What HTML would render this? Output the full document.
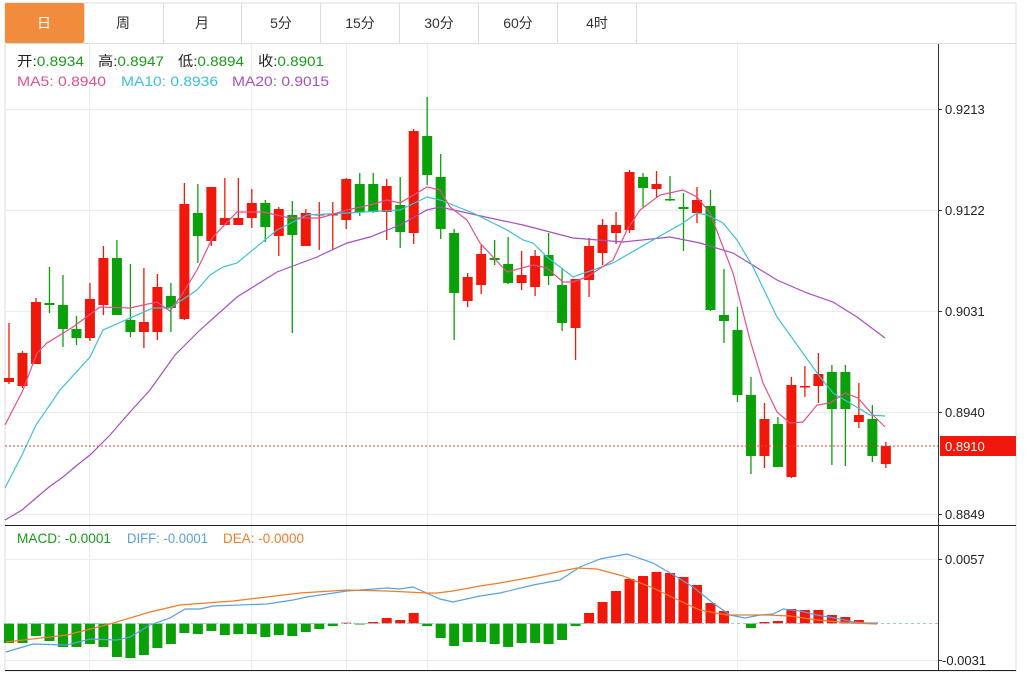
<!DOCTYPE html>
<html><head><meta charset="utf-8"><style>
body{margin:0;background:#fff;width:1033px;height:675px;overflow:hidden;font-family:"Liberation Sans","Noto Sans CJK SC",sans-serif}
svg{position:absolute;left:0;top:0}
</style></head><body>
<svg id="s" width="1033" height="675" xmlns="http://www.w3.org/2000/svg" font-family="Liberation Sans, Noto Sans CJK SC, sans-serif">
<rect x="5" y="3" width="1011" height="668" fill="#fff" stroke="#ddd"/>
<line x1="5" y1="43.5" x2="1016" y2="43.5" stroke="#ddd"/>
<rect x="5" y="3" width="79" height="40" fill="#f08c3c" rx="2"/>
<g stroke="#ddd"><line x1="84.5" y1="3" x2="84.5" y2="43"/><line x1="163.5" y1="3" x2="163.5" y2="43"/><line x1="241.5" y1="3" x2="241.5" y2="43"/><line x1="320.5" y1="3" x2="320.5" y2="43"/><line x1="399.5" y1="3" x2="399.5" y2="43"/><line x1="478.5" y1="3" x2="478.5" y2="43"/><line x1="557.5" y1="3" x2="557.5" y2="43"/><line x1="636.5" y1="3" x2="636.5" y2="43"/></g>
<g font-size="14" fill="#333" text-anchor="middle"><text x="44" y="28" fill="#fff">日</text><text x="123" y="28">周</text><text x="202" y="28">月</text><text x="281" y="28">5分</text><text x="360" y="28">15分</text><text x="439" y="28">30分</text><text x="518" y="28">60分</text><text x="597" y="28">4时</text></g>
<g stroke="#e6ecf2"><line x1="89.5" y1="44" x2="89.5" y2="671"/><line x1="251.5" y1="44" x2="251.5" y2="671"/><line x1="346.5" y1="44" x2="346.5" y2="671"/><line x1="427.5" y1="44" x2="427.5" y2="671"/><line x1="737.5" y1="44" x2="737.5" y2="671"/>
<line x1="5" y1="109.5" x2="938" y2="109.5"/><line x1="5" y1="210.5" x2="938" y2="210.5"/><line x1="5" y1="311.5" x2="938" y2="311.5"/><line x1="5" y1="412.5" x2="938" y2="412.5"/><line x1="5" y1="514.5" x2="938" y2="514.5"/><line x1="5" y1="559.5" x2="938" y2="559.5"/><line x1="5" y1="660.5" x2="938" y2="660.5"/></g>
<g id="g"></g>
<line x1="938.5" y1="44" x2="938.5" y2="671" stroke="#333"/>
<line x1="5" y1="525.5" x2="1016" y2="525.5" stroke="#222"/>
<line x1="5" y1="670.5" x2="1016" y2="670.5" stroke="#222"/>
<g stroke="#333"><line x1="938" y1="109.5" x2="942" y2="109.5"/><line x1="938" y1="210.5" x2="942" y2="210.5"/><line x1="938" y1="311.5" x2="942" y2="311.5"/><line x1="938" y1="412.5" x2="942" y2="412.5"/><line x1="938" y1="514.5" x2="942" y2="514.5"/><line x1="938" y1="559.5" x2="942" y2="559.5"/><line x1="938" y1="660.5" x2="942" y2="660.5"/></g>
<g font-size="13" fill="#222"><text x="945" y="114">0.9213</text><text x="945" y="215">0.9122</text><text x="945" y="316">0.9031</text><text x="945" y="417">0.8940</text><text x="945" y="519">0.8849</text><text x="945" y="564">0.0057</text><text x="942" y="665">-0.0031</text></g>
<line x1="5" y1="446" x2="938" y2="446" stroke="#e03c30" stroke-dasharray="2,2"/>
<rect x="940" y="436" width="76" height="20" fill="#f0180a"/>
<text x="945" y="451" font-size="13" fill="#fff">0.8910</text>
<g font-size="14"><text x="17" y="66" fill="#222" textLength="67" lengthAdjust="spacingAndGlyphs">开:<tspan fill="#1a9a1a">0.8934</tspan></text><text x="98" y="66" fill="#222" textLength="66" lengthAdjust="spacingAndGlyphs">高:<tspan fill="#1a9a1a">0.8947</tspan></text><text x="178" y="66" fill="#222" textLength="66" lengthAdjust="spacingAndGlyphs">低:<tspan fill="#1a9a1a">0.8894</tspan></text><text x="258" y="66" fill="#222" textLength="66" lengthAdjust="spacingAndGlyphs">收:<tspan fill="#1a9a1a">0.8901</tspan></text>
<text x="17" y="86" fill="#e0508a" textLength="89" lengthAdjust="spacingAndGlyphs">MA5: 0.8940</text><text x="121" y="86" fill="#3cc0d8" textLength="97" lengthAdjust="spacingAndGlyphs">MA10: 0.8936</text><text x="232" y="86" fill="#a550c0" textLength="97" lengthAdjust="spacingAndGlyphs">MA20: 0.9015</text>
<text x="17" y="543" fill="#1a9a1a" textLength="94" lengthAdjust="spacingAndGlyphs">MACD: -0.0001</text><text x="127" y="543" fill="#5aa0e0" textLength="81" lengthAdjust="spacingAndGlyphs">DIFF: -0.0001</text><text x="223" y="543" fill="#f07c28" textLength="81" lengthAdjust="spacingAndGlyphs">DEA: -0.0000</text></g>
</svg>
<script>
var C=[['r',378,382,323,384],['r',353,386,351,388],['r',302,364,298,364],['g',303,305,267,313],['g',305,329,275,347],['g',329,338,316,345],['r',299,338,283,341],['r',258,305,246,315],['g',258,315,240,315],['g',320,332,264,337],['r',322,332,268,348],['r',287,332,274,340],['g',296,308,283,332],['r',204,319,183,320],['g',213,236,184,263],['r',187,241,187,246],['r',218,225,178,225],['r',218,225,178,225],['r',203,218,189,228],['g',203,227,200,242],['r',209,236,207,256],['g',215,235,201,333],['r',213,246,209,246],['r',214,215,202,250],['r',214,215,202,250],['r',179,220,178,229],['g',184,212,173,216],['g',184,212,173,213],['r',186,212,179,240],['g',205,232,177,248],['r',131,233,129,244],['g',136,175,97,185],['g',177,229,154,239],['g',233,293,229,340],['r',277,301,273,307],['r',254,285,245,294],['g',258,260,240,265],['g',264,283,237,284],['r',275,283,251,290],['r',256,287,250,296],['g',255,276,233,285],['g',285,323,268,331],['r',279,328,279,360],['r',246,280,238,297],['r',225,253,219,265],['r',225,233,212,244],['r',172,230,170,233],['g',177,188,173,207],['r',184,189,171,198],['g',199,200,176,201],['g',207,209,193,251],['r',200,213,187,223],['g',206,310,190,311],['g',315,321,269,343],['g',330,395,307,402],['g',395,456,377,474],['r',419,456,403,468],['g',424,467,417,467],['r',385,477,377,478],['r',386,387,366,397],['r',374,386,353,403],['g',372,409,365,465],['g',372,409,365,466],['r',415,422,383,428],['g',419,456,405,462],['r',446,464,442,468]];
var H=[643,643,636,641,647,647,644,647,657,658,655,648,644,633,634,631,635,634,634,637,635,636,632,629,626,622.7,624,622,618,620,613,626,638,646,642,642,644,647,643,643,644,640,626,613,602,591,579,576,572,573,577,585,603,611,null,628,622,621,609,610,610,615,617,620,623,null];
var X=function(i){return 9+i*13.49};var o='';var z=623.5;
H.forEach(function(v,i){if(v==null)return;var x=X(i)-5,c=v>z?'#0aa00a':'#f0180a';o+='<rect x="'+x+'" y="'+Math.min(v,z)+'" width="10" height="'+Math.max(1,Math.abs(v-z))+'" fill="'+c+'"/>';});
o+='<line x1="5" y1="623.5" x2="938" y2="623.5" stroke="#9cc8e0" stroke-dasharray="3,3"/>';
C.forEach(function(c,i){var x=X(i),col=c[0]=='r'?'#f0180a':'#0aa00a';o+='<line x1="'+x+'" y1="'+c[3]+'" x2="'+x+'" y2="'+c[4]+'" stroke="'+col+'" stroke-width="1.3"/>';o+='<rect x="'+(x-5)+'" y="'+c[1]+'" width="10" height="'+Math.max(1.5,c[2]-c[1])+'" fill="'+col+'"/>';});
function pl(p,c){o+='<polyline fill="none" stroke="'+c+'" stroke-width="1.2" points="'+p+'"/>';}
pl('5,520 22,510 36,498 49,487 63,477 76,466 90,455 110,435 130,412 150,390 175,355 200,330 237,297 277,272 317,257 347,243 370,237 400,225 427,210 440,207 490,218 523,225 573,238 623,242 670,237 700,243 733,253 777,280 807,293 833,302 857,317 885,338','#a550c0');
pl('5,488 22,455 36,425 60,390 90,357 103,330 153,308 170,308 197,290 210,275 223,267 237,263 277,230 293,222 307,215 347,213 400,210 427,197 440,200 473,213 507,230 523,240 533,243 547,257 573,277 613,263 653,240 683,223 697,213 707,215 723,223 737,240 753,267 777,317 820,377 833,393 870,415 885,416','#3cc0d8');
pl('5,425 23,390 37,353 47,343 73,327 100,307 130,308 157,302 170,311 183,293 197,270 213,237 237,212 263,212 290,218 320,218 347,210 370,205 387,200 400,203 427,187 440,190 450,207 467,220 480,243 507,272 533,265 547,268 563,282 573,282 587,277 613,260 627,230 640,210 660,195 683,190 697,197 710,213 733,273 750,340 763,383 777,412 790,423 803,422 817,405 830,403 845,393 858,398 873,415 885,427','#e0508a');
pl('6,652 33,644 67,645 90,639 117,640 130,637 150,625 170,618 185,609 200,609 213,606 267,604 293,600 307,597 347,591 387,588 400,589 413,587 440,599 453,602 480,596 500,593 533,585 560,580 580,567 600,559 627,554 653,563 677,577 693,587 713,603 730,615 745,618 760,615 773,614 783,609 800,611 817,615 840,619 853,622 867,623 878,623','#5aa0e0');
pl('6,642 67,635 110,624 150,612 180,605 233,601 300,593 347,590 387,591 427,593 437,593 453,591 480,586 500,583 533,577 577,568 597,569 623,576 653,588 680,601 700,610 727,615 767,615 790,616 817,620 850,623 877,624','#f07c28');
document.getElementById('g').innerHTML=o;
</script>
</body></html>
